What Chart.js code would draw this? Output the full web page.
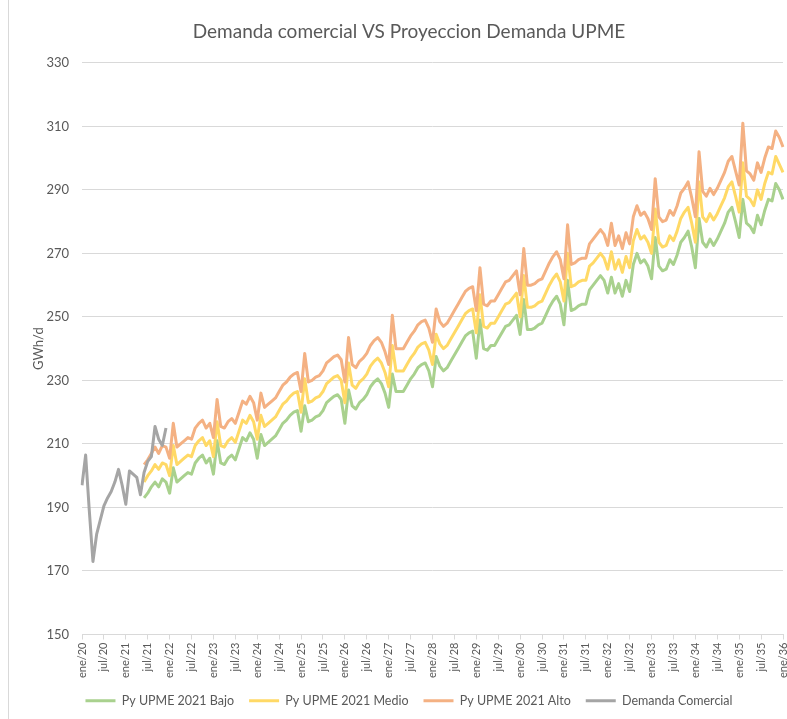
<!DOCTYPE html>
<html>
<head>
<meta charset="utf-8">
<script src="https://cdn.jsdelivr.net/npm/chart.js@4"></script>
<style>
    body { margin: 0; background: #ffffff; }
    #wrap { position: relative; width: 787px; height: 719px; }
    #borde { position: absolute; left: 8px; top: 0; width: 1px; height: 719px; background: #d9d9d9; }
</style>
</head>
<body>
<div id="wrap">
    <div id="borde"></div>
    <canvas id="demandaChart"></canvas>
</div>
<script>
// etiquetas del eje X (mensual, ene/20 a ene/36)
const meses = ['ene', 'feb', 'mar', 'abr', 'may', 'jun', 'jul', 'ago', 'sep', 'oct', 'nov', 'dic'];
const anios = ['20', '21', '22', '23', '24', '25', '26', '27', '28', '29', '30', '31', '32', '33', '34', '35'];

// demanda real, ene/20 a dic/21 (GWh/d)
const demandaComercial = [
    197.0, 206.5, 189.0, 173.0, 181.5, 186.0, 190.5, 193.0, 195.0, 198.0, 202.0, 197.0,
    191.0, 201.5, 200.5, 199.5, 194.0, 201.0, 204.5, 206.0, 215.5, 211.5, 209.5, 215.0
];

// las proyecciones empiezan en jun/21
const inicioProyeccion = 17;

const pyBajo = [
    193.0, 194.5, 196.5, 198.0, 196.5, 199.0, 198.0,
    194.5, 202.5, 198.0, 199.0, 200.0, 201.0, 200.5, 204.0, 205.5, 206.5, 204.0, 205.5,
    200.5, 211.0, 204.0, 203.5, 205.5, 206.5, 205.0, 208.5, 212.0, 211.0, 213.5, 211.5,
    205.5, 213.0, 209.5, 210.5, 211.5, 212.5, 214.5, 216.5, 217.5, 219.0, 220.0, 220.5,
    214.0, 222.0, 217.0, 217.5, 218.5, 219.0, 220.5, 223.0, 224.0, 225.0, 225.5, 224.0,
    216.5, 227.0, 222.0, 221.0, 223.0, 224.0, 225.5, 228.0, 229.5, 230.5, 229.0, 226.0,
    221.5, 232.0, 226.5, 226.5, 226.5, 228.5, 230.5, 232.0, 234.0, 235.0, 235.5, 233.0,
    228.0, 237.5, 234.5, 233.0, 234.0, 236.0, 238.0, 240.0, 242.0, 244.0, 245.0, 245.5,
    237.0, 249.0, 240.0, 239.5, 241.0, 241.0, 243.0, 245.0, 247.0, 247.5, 249.0, 250.5,
    244.5, 255.5, 246.0, 246.0, 246.5, 247.5, 248.0, 250.5, 253.0, 255.0, 256.5, 254.0,
    247.5, 261.5, 252.0, 252.5, 253.5, 254.0, 254.0, 258.5, 260.0, 261.5, 263.0, 261.5,
    257.5, 262.5, 257.5, 260.5, 256.5, 261.5, 258.0, 266.5, 270.0, 267.0, 268.0, 266.0,
    262.0, 275.0, 266.0, 264.5, 265.0, 268.0, 266.5, 269.5, 273.5, 275.0, 277.0, 272.0,
    265.5, 281.0, 273.5, 272.0, 274.5, 272.5, 274.5, 277.0, 279.5, 283.0, 284.5, 280.0,
    275.0, 287.0, 279.5, 278.5, 276.5, 282.0, 279.0, 283.5, 287.0, 286.5, 292.0, 290.0,
    287.0
];

const pyMedio = [
    198.0, 200.0, 201.5, 203.5, 202.0, 204.0, 203.5,
    200.0, 209.5, 203.5, 204.5, 205.5, 206.5, 206.0, 209.5, 211.0, 212.0, 209.5, 211.0,
    206.0, 217.0, 209.5, 209.0, 211.0, 212.0, 210.5, 214.0, 217.5, 216.5, 219.0, 217.0,
    211.5, 219.0, 215.5, 216.5, 217.5, 218.5, 220.5, 222.5, 223.5, 225.0, 226.0, 226.5,
    220.0, 230.5, 223.0, 223.5, 224.5, 225.0, 226.5, 229.0, 230.0, 231.0, 231.5, 230.0,
    223.0, 235.5, 228.5, 227.5, 229.5, 230.5, 232.0, 234.5, 236.0, 237.0, 235.5, 232.5,
    228.0, 241.0, 233.0, 233.0, 233.0, 235.0, 237.0, 238.5, 240.5, 241.5, 242.0, 239.5,
    235.0, 244.5, 241.5, 240.0, 241.0, 243.0, 245.0, 247.0, 249.0, 251.0, 252.0, 252.5,
    245.0, 257.0, 247.0, 246.5, 248.0, 248.0, 250.0, 252.0, 254.0, 254.5, 256.0, 257.5,
    250.0, 263.0, 253.0, 253.0, 253.5, 254.5, 255.0, 257.5, 260.0, 262.0, 263.5, 261.0,
    255.0, 270.0, 259.5, 260.0, 261.0, 261.5, 261.5, 266.0, 267.0, 268.5, 270.0, 268.5,
    265.0, 270.5, 265.0, 268.0, 264.0, 269.0, 265.5, 274.0, 277.5, 274.5, 275.5, 273.5,
    270.0, 284.0, 273.5, 272.0, 272.5, 275.5, 274.0, 277.0, 281.0, 283.0, 284.5, 279.5,
    273.5, 292.5, 281.5, 280.0, 282.5, 280.5, 282.5, 285.0, 287.5, 291.0, 292.5, 288.0,
    283.0, 298.5, 288.0, 287.0, 285.0, 290.0, 287.0, 292.0, 295.5, 295.0, 300.5, 298.0,
    295.5
];

const pyAlto = [
    203.5, 205.0, 207.0, 209.0, 207.0, 209.5, 209.0,
    205.5, 216.5, 209.0, 210.0, 211.0, 212.0, 211.5, 215.0, 216.5, 217.5, 215.0, 216.5,
    212.0, 224.0, 215.5, 215.0, 217.0, 218.0, 216.5, 220.0, 223.5, 222.5, 225.0, 223.0,
    217.5, 226.0, 221.5, 222.5, 223.5, 224.5, 226.5, 228.5, 229.5, 231.0, 232.0, 232.5,
    226.5, 238.5, 229.5, 230.0, 231.0, 231.5, 233.0, 235.5, 236.5, 237.5, 238.0, 236.5,
    229.5, 243.5, 235.0, 234.0, 236.0, 237.0, 238.5, 241.0, 242.5, 243.5, 242.0, 239.0,
    235.0, 250.5, 240.0, 240.0, 240.0, 242.0, 244.0, 245.5, 247.5, 248.5, 249.0, 246.5,
    242.0, 252.5, 248.5, 247.0, 248.0, 250.0, 252.0, 254.0, 256.0, 258.0, 259.0, 259.5,
    252.0, 265.5, 254.0, 253.5, 255.0, 255.0, 257.0, 259.0, 261.0, 261.5, 263.0, 264.5,
    257.0, 271.5, 260.0, 260.0, 260.5, 261.5, 262.0, 264.5, 267.0, 269.0, 270.5, 268.0,
    262.0, 279.0, 266.5, 267.0, 268.0, 268.5, 268.5, 273.0, 274.5, 276.0, 277.5, 276.0,
    272.5, 279.5, 272.5, 275.5, 271.5, 276.5, 273.0, 281.5, 285.0, 282.0, 283.0, 281.0,
    277.5, 293.5, 281.5, 280.0, 280.5, 283.5, 282.0, 285.0, 289.0, 290.5, 292.5, 287.5,
    281.5, 302.0, 289.5, 288.0, 290.5, 288.5, 290.5, 293.0, 295.5, 299.0, 300.5, 296.0,
    291.5, 311.0, 296.0, 295.0, 293.0, 298.5, 295.5, 300.0, 303.5, 303.0, 308.5, 306.5,
    303.5
];

// armar etiquetas mes/año
const etiquetas = [];
anios.forEach(function(anio) {
    meses.forEach(function(mes) {
        etiquetas.push(mes + '/' + anio);
    });
});
etiquetas.push('ene/36');

// rellenar con null los meses sin proyección
function conDesfase(valores) {
    const relleno = new Array(inicioProyeccion).fill(null);
    return relleno.concat(valores);
}

const fuente = 'Lato, "Liberation Sans", sans-serif';
const gris = '#595959';

function serie(nombre, datos, color, orden) {
    return {
        label: nombre,
        data: datos,
        borderColor: color,
        backgroundColor: color,
        borderWidth: 3,
        pointRadius: 0,
        pointHoverRadius: 0,
        tension: 0,
        borderJoinStyle: 'round',
        order: orden
    };
}

const ctx = document.getElementById('demandaChart').getContext('2d');
const demandaChart = new Chart(ctx, {
    type: 'line',
    data: {
        labels: etiquetas,
        datasets: [
            serie('Py UPME 2021 Bajo', conDesfase(pyBajo), '#a9d18e', 3),
            serie('Py UPME 2021 Medio', conDesfase(pyMedio), '#ffd966', 2),
            serie('Py UPME 2021 Alto', conDesfase(pyAlto), '#f4b183', 1),
            serie('Demanda Comercial', demandaComercial, '#a5a5a5', 0)
        ]
    },
    options: {
        responsive: true,
        maintainAspectRatio: false,
        animation: false,
        layout: {
            padding: { left: 31, right: 0, bottom: 2 }
        },
        plugins: {
            title: {
                display: true,
                text: 'Demanda comercial VS Proyeccion Demanda UPME',
                color: gris,
                font: { family: fuente, size: 19, weight: 'normal' },
                padding: { top: 20, bottom: 20 }
            },
            legend: {
                position: 'bottom',
                labels: {
                    usePointStyle: true,
                    pointStyle: 'line',
                    pointStyleWidth: 30,
                    color: gris,
                    font: { family: fuente, size: 12.5 },
                    padding: 15,
                    sort: function(a, b) { return a.datasetIndex - b.datasetIndex; }
                }
            },
            tooltip: { enabled: false }
        },
        scales: {
            x: {
                grid: {
                    drawOnChartArea: false,
                    tickLength: 5,
                    color: function(c) { return c.index % 6 === 0 ? '#d9d9d9' : 'rgba(0,0,0,0)'; }
                },
                border: { color: '#d9d9d9' },
                ticks: {
                    autoSkip: false,
                    maxRotation: 90,
                    minRotation: 90,
                    color: gris,
                    font: { family: fuente, size: 11 },
                    padding: 3,
                    callback: function(valor, indice) {
                        return indice % 6 === 0 ? etiquetas[indice] : '';
                    }
                },
                // el área de trazado llega casi al borde derecho, como en el original
                afterFit: function(escala) {
                    escala.paddingRight = 4;
                    escala.height = 45;
                }
            },
            y: {
                min: 150,
                max: 330,
                grid: { color: '#d9d9d9', drawTicks: false },
                border: { display: false },
                ticks: {
                    stepSize: 20,
                    color: gris,
                    font: { family: fuente, size: 13 },
                    padding: 13
                },
                title: {
                    display: true,
                    text: 'GWh/d',
                    color: gris,
                    font: { family: fuente, size: 13 },
                    padding: 0
                },
                // ancho fijo del eje para que el área de trazado empiece en x≈82
                afterFit: function(escala) {
                    escala.width = 51;
                }
            }
        }
    }
});
</script>
</body>
</html>
